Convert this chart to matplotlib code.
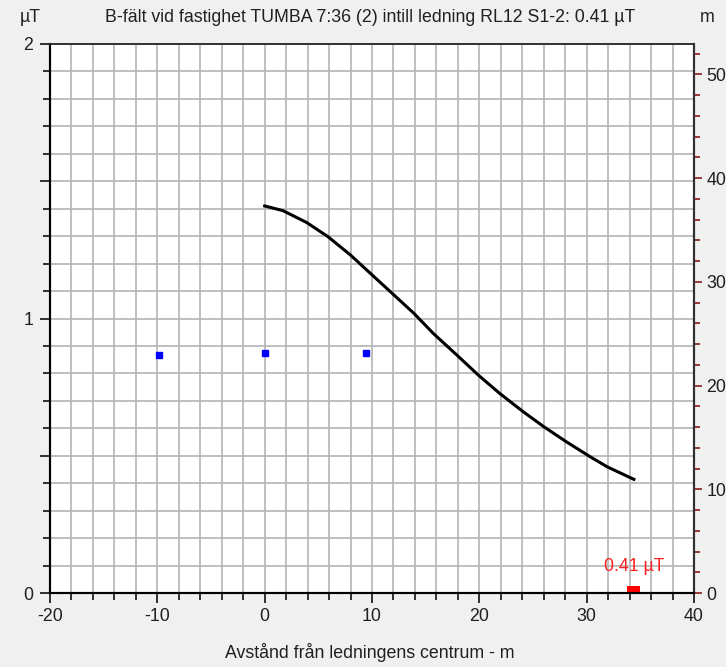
import numpy as np
import matplotlib
matplotlib.use('Agg')
import matplotlib.pyplot as plt
from matplotlib.ticker import MultipleLocator, FixedLocator, FixedFormatter

plt.rcParams['font.family'] = ['Liberation Sans', 'DejaVu Sans']
plt.rcParams['axes.unicode_minus'] = False

# B-field profile (distance in m, field in uT)
dist = [0.0, 1.7, 3.9, 5.9, 8.0, 9.5, 11.7, 13.9, 15.7, 17.9, 19.9,
        21.9, 24.1, 26.0, 28.1, 30.3, 31.9, 34.4]
field = [1.410, 1.393, 1.350, 1.298, 1.231, 1.177, 1.098, 1.019, 0.946,
         0.867, 0.794, 0.727, 0.660, 0.606, 0.551, 0.497, 0.460, 0.414]

# conductor positions (x in m, height in m on right axis)
cond_x = [-9.8, 0.0, 9.4]
cond_h = [22.9, 23.1, 23.1]

house_x = 34.4
house_val = 0.41
title = 'B-fält vid fastighet TUMBA 7:36 (2) intill ledning RL12 S1-2: 0.41 µT'

bg = '#f0f0f0'
fs = 12.8
fig = plt.figure(figsize=(7.26, 6.67), dpi=100, facecolor=bg)
ax = fig.add_axes([50/726, 1-593/667, 644/726, 549/667])
ax.set_xlim(-20, 40)
ax.set_ylim(0, 2)
ymax_m = 50 * 549 / (593 - 74.3)  # right axis top in m

ax.xaxis.set_major_locator(MultipleLocator(10))
ax.xaxis.set_minor_locator(MultipleLocator(2))
ax.yaxis.set_major_locator(FixedLocator([0, 0.5, 1, 1.5, 2]))
ax.yaxis.set_major_formatter(FixedFormatter(['0', '', '1', '', '2']))
ax.yaxis.set_minor_locator(MultipleLocator(0.1))

for v in np.arange(-18, 40, 2):
    ax.axvline(v, color='#b4b4b4', lw=1.2, zorder=0)
for v in np.arange(0.1, 2.0, 0.1):
    ax.axhline(v, color='#b4b4b4', lw=1.2, zorder=0)

ax.plot(dist, field, color='black', lw=2.2, zorder=3)

ax2 = ax.twinx()
ax2.set_ylim(0, ymax_m)
ax2.plot(cond_x, cond_h, 's', color='#0000ff', ms=4.5, zorder=4)
ax2.yaxis.set_major_locator(MultipleLocator(10))
ax2.yaxis.set_minor_locator(MultipleLocator(2))
ax2.tick_params(axis='y', which='both', colors='#8b1a1a', labelcolor='#202020',
                labelsize=fs, pad=3)
ax2.tick_params(axis='y', which='major', length=6, width=1.2)
ax2.tick_params(axis='y', which='minor', length=4, width=1.2)

ax.bar([house_x], [0.025], width=1.2, color='#ff0000', zorder=5)
ax.text(house_x, 0.065, '0.41 µT', color='#ff2020', ha='center', va='bottom',
        fontsize=fs)

ax.tick_params(axis='both', which='major', length=7, width=1.3,
               colors='#202020', labelsize=fs)
ax.tick_params(axis='y', which='major', pad=5)
ax.tick_params(axis='both', which='minor', length=5, width=1.3, colors='#202020')

for a in (ax, ax2):
    a.spines['left'].set_linewidth(1.5)
    a.spines['bottom'].set_linewidth(1.5)
    a.spines['top'].set_linewidth(1.2)
    a.spines['right'].set_linewidth(1.5)
    a.spines['top'].set_color('#303030')
    a.spines['right'].set_color('#303030')

fig.text(20/726, 1-18/667, 'µT', fontsize=fs, ha='left', va='center', color='#202020')
fig.text(700/726, 1-18/667, 'm', fontsize=fs, ha='left', va='center', color='#202020')
fig.text(370/726, 1-18/667, title, fontsize=fs, ha='center', va='center', color='#202020')
fig.text(370/726, 1-652/667, 'Avstånd från ledningens centrum - m', fontsize=fs,
         ha='center', va='center', color='#202020')

fig.savefig('out.png', dpi=100, facecolor=bg)
